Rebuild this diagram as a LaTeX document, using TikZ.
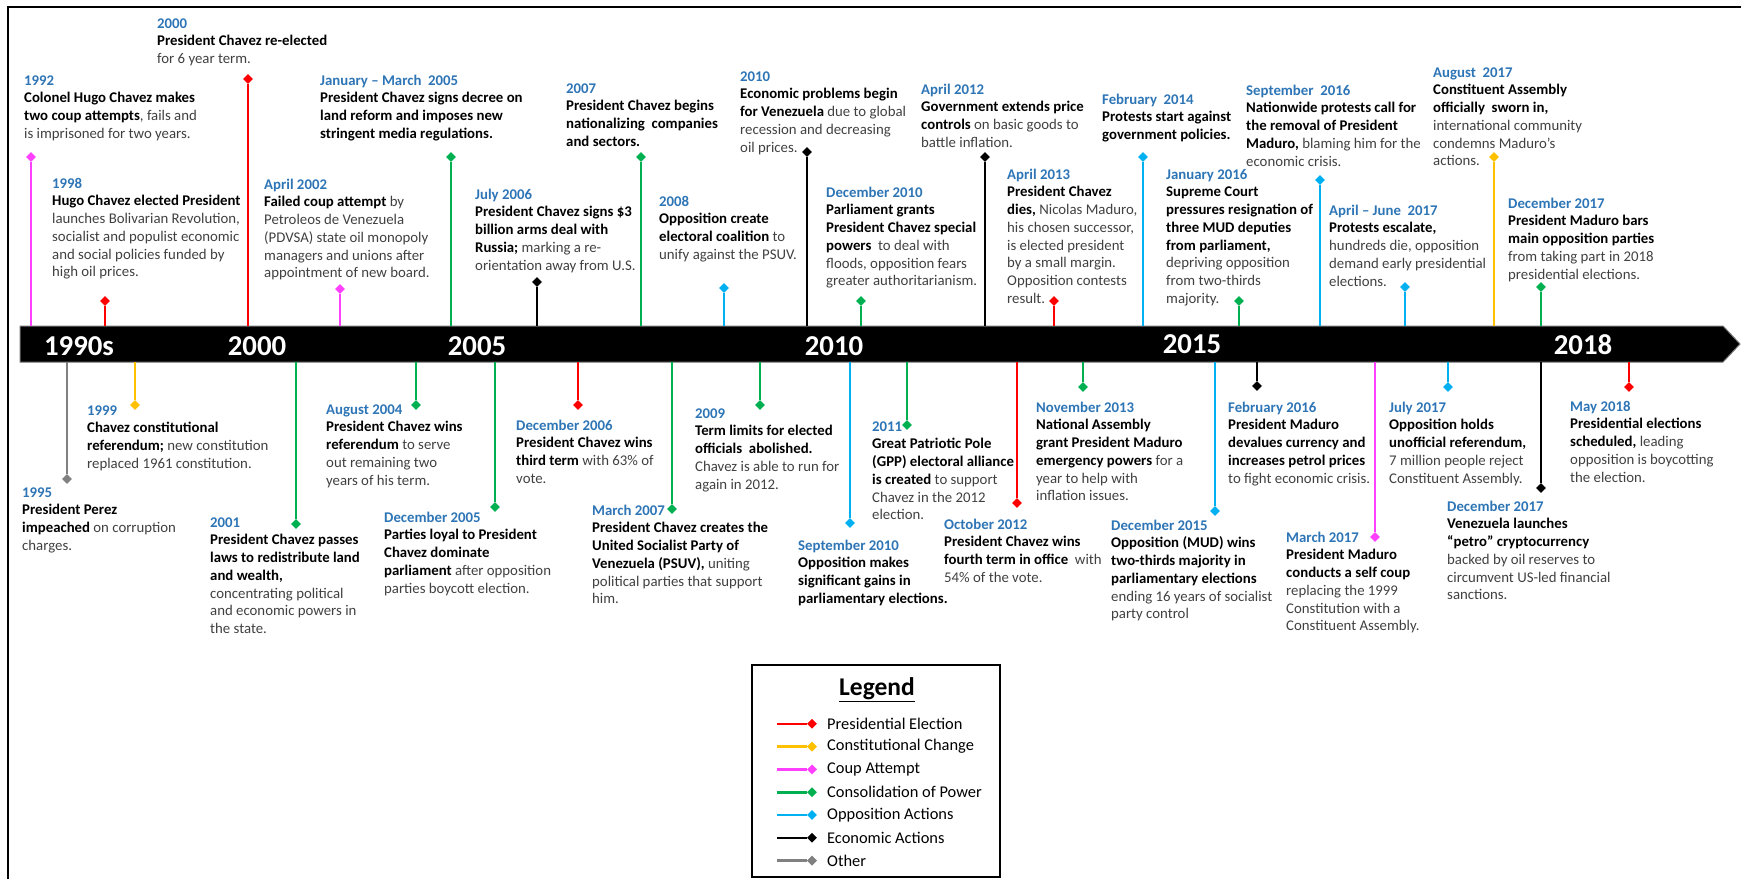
\documentclass[tikz,border=0pt]{standalone}
\usepackage{fontspec}
\setmainfont{Carlito}
\usetikzlibrary{shapes.geometric}

\definecolor{evred}{RGB}{255,0,0}
\definecolor{evyellow}{RGB}{255,192,0}
\definecolor{evpink}{RGB}{255,64,255}
\definecolor{evgreen}{RGB}{0,176,80}
\definecolor{evblue}{RGB}{0,176,240}
\definecolor{evgray}{RGB}{128,128,128}
\definecolor{dateblue}{RGB}{46,117,182}
\definecolor{txtgray}{RGB}{64,64,64}

\newcommand\evtfont{\fontsize{14.8}{17.7}\selectfont}
\newcommand\dt[1]{\rule{0pt}{12pt}\textcolor{dateblue}{\textbf{#1}}}
\newcommand\bd[1]{\textcolor{black}{\textbf{#1}}}

\tikzset{
  stem/.style={line width=2.6pt, draw=#1},
  mk/.style={diamond, fill=#1, inner sep=0pt, minimum size=10pt},
  evt/.style={align=left, inner sep=0pt, anchor=north west, font=\evtfont, text=txtgray},
  yearlbl/.style={font=\fontsize{28.8}{30}\selectfont\bfseries, text=white, inner sep=0pt},
  legtxt/.style={font=\fontsize{16.4}{19}\selectfont, anchor=west, inner sep=0pt},
}

\begin{document}
\begin{tikzpicture}[x=1pt,y=-1pt]
\useasboundingbox (0,0) rectangle (1741,879);

% frame
\draw[line width=2pt] (8,879) -- (8,7) -- (1741,7);

% timeline bar
\filldraw[fill=black, draw=black!55, line width=1pt] (20,326) -- (1723,326) -- (1740,344) -- (1723,362) -- (20,362) -- cycle;
\coordinate (bartop) at (0,326);
\coordinate (barbot) at (0,362);

\node[yearlbl] (y1990) at (79,346) {1990s};
\node[yearlbl] (y2000) at (257,346) {2000};
\node[yearlbl] (y2005) at (477,346) {2005};
\node[yearlbl] (y2010) at (834,346) {2010};
\node[yearlbl] (y2015) at (1192,344) {2015};
\node[yearlbl] (y2018) at (1583,345) {2018};

%% events above the bar
\node[mk=evpink] (d1992) at (31,157) {};
\draw[stem=evpink] (d1992 |- bartop) -- (d1992);
\node[evt] (t1992) at (24,73) {\dt{1992}\\\bd{Colonel Hugo Chavez makes}\\\bd{two coup attempts}, fails and\\is imprisoned for two years.};

\node[mk=evred] (d1998) at (105,301) {};
\draw[stem=evred] (d1998 |- bartop) -- (d1998);
\node[evt] (t1998) at (52,176) {\dt{1998}\\\bd{Hugo Chavez elected President}\\launches Bolivarian Revolution,\\socialist and populist economic\\and social policies funded by\\high oil prices.};

\node[mk=evred] (d2000) at (248,79) {};
\draw[stem=evred] (d2000 |- bartop) -- (d2000);
\node[evt] (t2000) at (157,16) {\dt{2000}\\\bd{President Chavez re-elected}\\for 6 year term.};

\node[mk=evpink] (d2002) at (340,289) {};
\draw[stem=evpink] (d2002 |- bartop) -- (d2002);
\node[evt] (t2002) at (264,177) {\dt{April 2002}\\\bd{Failed coup attempt} by\\Petroleos de Venezuela\\(PDVSA) state oil monopoly\\managers and unions after\\appointment of new board.};

\node[mk=evgreen] (d2005a) at (451,157) {};
\draw[stem=evgreen] (d2005a |- bartop) -- (d2005a);
\node[evt] (t2005a) at (320,73) {\dt{January – March\ \ 2005}\\\bd{President Chavez signs decree on}\\\bd{land reform and imposes new}\\\bd{stringent media regulations.}};

\node[mk=black] (d2006a) at (537,282) {};
\draw[stem=black] (d2006a |- bartop) -- (d2006a);
\node[evt] (t2006a) at (475,187) {\dt{July 2006}\\\bd{President Chavez signs \$3}\\\bd{billion arms deal with}\\\bd{Russia;} marking a re-\\orientation away from U.S.};

\node[mk=evgreen] (d2007a) at (641,157) {};
\draw[stem=evgreen] (d2007a |- bartop) -- (d2007a);
\node[evt] (t2007a) at (566,81) {\dt{2007}\\\bd{President Chavez begins}\\\bd{nationalizing\ \ companies}\\\bd{and sectors.}};

\node[mk=evblue] (d2008) at (724,288) {};
\draw[stem=evblue] (d2008 |- bartop) -- (d2008);
\node[evt] (t2008) at (659,194) {\dt{2008}\\\bd{Opposition create}\\\bd{electoral coalition} to\\unify against the PSUV.};

\node[mk=black] (d2010a) at (807,152) {};
\draw[stem=black] (d2010a |- bartop) -- (d2010a);
\node[evt] (t2010a) at (740,69) {\dt{2010}\\\bd{Economic problems begin}\\\bd{for Venezuela} due to global\\recession and decreasing\\oil prices.};

\node[mk=evgreen] (d2010b) at (861,301) {};
\draw[stem=evgreen] (d2010b |- bartop) -- (d2010b);
\node[evt] (t2010b) at (826,185) {\dt{December 2010}\\\bd{Parliament grants}\\\bd{President Chavez special}\\\bd{powers}\ \ to deal with\\floods, opposition fears\\greater authoritarianism.};

\node[mk=black] (d2012a) at (985,157) {};
\draw[stem=black] (d2012a |- bartop) -- (d2012a);
\node[evt] (t2012a) at (921,82) {\dt{April 2012}\\\bd{Government extends price}\\\bd{controls} on basic goods to\\battle inflation.};

\node[mk=evred] (d2013a) at (1054,301) {};
\draw[stem=evred] (d2013a |- bartop) -- (d2013a);
\node[evt] (t2013a) at (1007,167) {\dt{April 2013}\\\bd{President Chavez}\\\bd{dies,} Nicolas Maduro,\\his chosen successor,\\is elected president\\by a small margin.\\Opposition contests\\result.};

\node[mk=evblue] (d2014) at (1143,157) {};
\draw[stem=evblue] (d2014 |- bartop) -- (d2014);
\node[evt] (t2014) at (1102,92) {\dt{February\ \ 2014}\\\bd{Protests start against}\\\bd{government policies.}};

\node[mk=evgreen] (d2016a) at (1239,301) {};
\draw[stem=evgreen] (d2016a |- bartop) -- (d2016a);
\node[evt] (t2016a) at (1166,167) {\dt{January 2016}\\\bd{Supreme Court}\\\bd{pressures resignation of}\\\bd{three MUD deputies}\\\bd{from parliament,}\\depriving opposition\\from two-thirds\\majority.};

\node[mk=evblue] (d2016b) at (1320,180) {};
\draw[stem=evblue] (d2016b |- bartop) -- (d2016b);
\node[evt] (t2016b) at (1246,83) {\dt{September\ \ 2016}\\\bd{Nationwide protests call for}\\\bd{the removal of President}\\\bd{Maduro,} blaming him for the\\economic crisis.};

\node[mk=evblue] (d2017a) at (1405,287) {};
\draw[stem=evblue] (d2017a |- bartop) -- (d2017a);
\node[evt] (t2017a) at (1329,203) {\dt{April – June\ \ 2017}\\\bd{Protests escalate,}\\hundreds die, opposition\\demand early presidential\\elections.};

\node[mk=evyellow] (d2017b) at (1494,157) {};
\draw[stem=evyellow] (d2017b |- bartop) -- (d2017b);
\node[evt] (t2017b) at (1433,65) {\dt{August\ \ 2017}\\\bd{Constituent Assembly}\\\bd{officially\ \ sworn in,}\\international community\\condemns Maduro’s\\actions.};

\node[mk=evgreen] (d2017c) at (1541,287) {};
\draw[stem=evgreen] (d2017c |- bartop) -- (d2017c);
\node[evt] (t2017c) at (1508,196) {\dt{December 2017}\\\bd{President Maduro bars}\\\bd{main opposition parties}\\from taking part in 2018\\presidential elections.};

%% events below the bar
\node[mk=evgray] (d1995) at (67,479) {};
\draw[stem=evgray] (d1995 |- barbot) -- (d1995);
\node[evt] (t1995) at (22,485) {\dt{1995}\\\bd{President Perez}\\\bd{impeached} on corruption\\charges.};

\node[mk=evyellow] (d1999) at (135,405) {};
\draw[stem=evyellow] (d1999 |- barbot) -- (d1999);
\node[evt] (t1999) at (87,403) {\dt{1999}\\\bd{Chavez constitutional}\\\bd{referendum;} new constitution\\replaced 1961 constitution.};

\node[mk=evgreen] (d2001) at (296,524) {};
\draw[stem=evgreen] (d2001 |- barbot) -- (d2001);
\node[evt] (t2001) at (210,515) {\dt{2001}\\\bd{President Chavez passes}\\\bd{laws to redistribute land}\\\bd{and wealth,}\\concentrating political\\and economic powers in\\the state.};

\node[mk=evgreen] (d2004) at (416,405) {};
\draw[stem=evgreen] (d2004 |- barbot) -- (d2004);
\node[evt] (t2004) at (326,402) {\dt{August 2004}\\\bd{President Chavez wins}\\\bd{referendum} to serve\\out remaining two\\years of his term.};

\node[mk=evgreen] (d2005b) at (495,507) {};
\draw[stem=evgreen] (d2005b |- barbot) -- (d2005b);
\node[evt] (t2005b) at (384,510) {\dt{December 2005}\\\bd{Parties loyal to President}\\\bd{Chavez dominate}\\\bd{parliament} after opposition\\parties boycott election.};

\node[mk=evred] (d2006b) at (578,405) {};
\draw[stem=evred] (d2006b |- barbot) -- (d2006b);
\node[evt] (t2006b) at (516,418) {\dt{December 2006}\\\bd{President Chavez wins}\\\bd{third term} with 63\% of\\vote.};

\node[mk=evgreen] (d2007d) at (672,509) {};
\draw[stem=evgreen] (d2007d |- barbot) -- (d2007d);
\node[evt] (t2007d) at (592,503) {\dt{March 2007}\\\bd{President Chavez creates the}\\\bd{United Socialist Party of}\\\bd{Venezuela (PSUV),} uniting\\political parties that support\\him.};

\node[mk=evgreen] (d2009) at (760,405) {};
\draw[stem=evgreen] (d2009 |- barbot) -- (d2009);
\node[evt] (t2009) at (695,406) {\dt{2009}\\\bd{Term limits for elected}\\\bd{officials\ \ abolished.}\\Chavez is able to run for\\again in 2012.};

\node[mk=evblue] (d2010c) at (850,523) {};
\draw[stem=evblue] (d2010c |- barbot) -- (d2010c);
\node[evt] (t2010c) at (798,538) {\dt{September 2010}\\\bd{Opposition makes}\\\bd{significant gains in}\\\bd{parliamentary elections.}};

\node[mk=evgreen] (d2011) at (907,425) {};
\draw[stem=evgreen] (d2011 |- barbot) -- (d2011);
\node[evt] (t2011) at (872,419) {\dt{2011}\\\bd{Great Patriotic Pole}\\\bd{(GPP) electoral alliance}\\\bd{is created} to support\\Chavez in the 2012\\election.};

\node[mk=evred] (d2012b) at (1017,503) {};
\draw[stem=evred] (d2012b |- barbot) -- (d2012b);
\node[evt] (t2012b) at (944,517) {\dt{October 2012}\\\bd{President Chavez wins}\\\bd{fourth term in office}\ \ with\\54\% of the vote.};

\node[mk=evgreen] (d2013b) at (1083,387) {};
\draw[stem=evgreen] (d2013b |- barbot) -- (d2013b);
\node[evt] (t2013b) at (1036,400) {\dt{November 2013}\\\bd{National Assembly}\\\bd{grant President Maduro}\\\bd{emergency powers} for a\\year to help with\\inflation issues.};

\node[mk=evblue] (d2015) at (1215,511) {};
\draw[stem=evblue] (d2015 |- barbot) -- (d2015);
\node[evt] (t2015) at (1111,518) {\dt{December 2015}\\\bd{Opposition (MUD) wins}\\\bd{two-thirds majority in}\\\bd{parliamentary elections}\\ending 16 years of socialist\\party control};

\node[mk=black] (d2016c) at (1257,386) {};
\draw[stem=black] (d2016c |- barbot) -- (d2016c);
\node[evt] (t2016c) at (1228,400) {\dt{February 2016}\\\bd{President Maduro}\\\bd{devalues currency and}\\\bd{increases petrol prices}\\to fight economic crisis.};

\node[mk=evpink] (d2017d) at (1375,537) {};
\draw[stem=evpink] (d2017d |- barbot) -- (d2017d);
\node[evt] (t2017d) at (1286,530) {\dt{March 2017}\\\bd{President Maduro}\\\bd{conducts a self coup}\\replacing the 1999\\Constitution with a\\Constituent Assembly.};

\node[mk=evblue] (d2017e) at (1448,387) {};
\draw[stem=evblue] (d2017e |- barbot) -- (d2017e);
\node[evt] (t2017e) at (1389,400) {\dt{July 2017}\\\bd{Opposition holds}\\\bd{unofficial referendum,}\\7 million people reject\\Constituent Assembly.};

\node[mk=black] (d2017f) at (1541,488) {};
\draw[stem=black] (d2017f |- barbot) -- (d2017f);
\node[evt] (t2017f) at (1447,499) {\dt{December 2017}\\\bd{Venezuela launches}\\\bd{“petro” cryptocurrency}\\backed by oil reserves to\\circumvent US-led financial\\sanctions.};

\node[mk=evred] (d2018) at (1629,387) {};
\draw[stem=evred] (d2018 |- barbot) -- (d2018);
\node[evt] (t2018) at (1570,399) {\dt{May 2018}\\\bd{Presidential elections}\\\bd{scheduled,} leading\\opposition is boycotting\\the election.};

%% legend
\draw[line width=1.5pt] (752,665) rectangle (1000,877);
\node[font=\fontsize{25.5}{28}\selectfont\bfseries, inner sep=0pt] (legtitle) at (877,690) {\underline{Legend}};
\foreach \col/\lbl [count=\i] in {evred/Presidential Election, evyellow/Constitutional Change, evpink/Coup Attempt, evgreen/Consolidation of Power, evblue/Opposition Actions, black/Economic Actions, evgray/Other}{
  \coordinate (l\i) at (777,{701+22.8*\i});
  \node[mk=\col] (lm\i) at (812,{701+22.8*\i}) {};
  \draw[stem=\col] (l\i) -- (lm\i);
  \node[legtxt] (lt\i) at (827,{701+22.8*\i}) {\lbl};
}
\end{tikzpicture}
\end{document}
